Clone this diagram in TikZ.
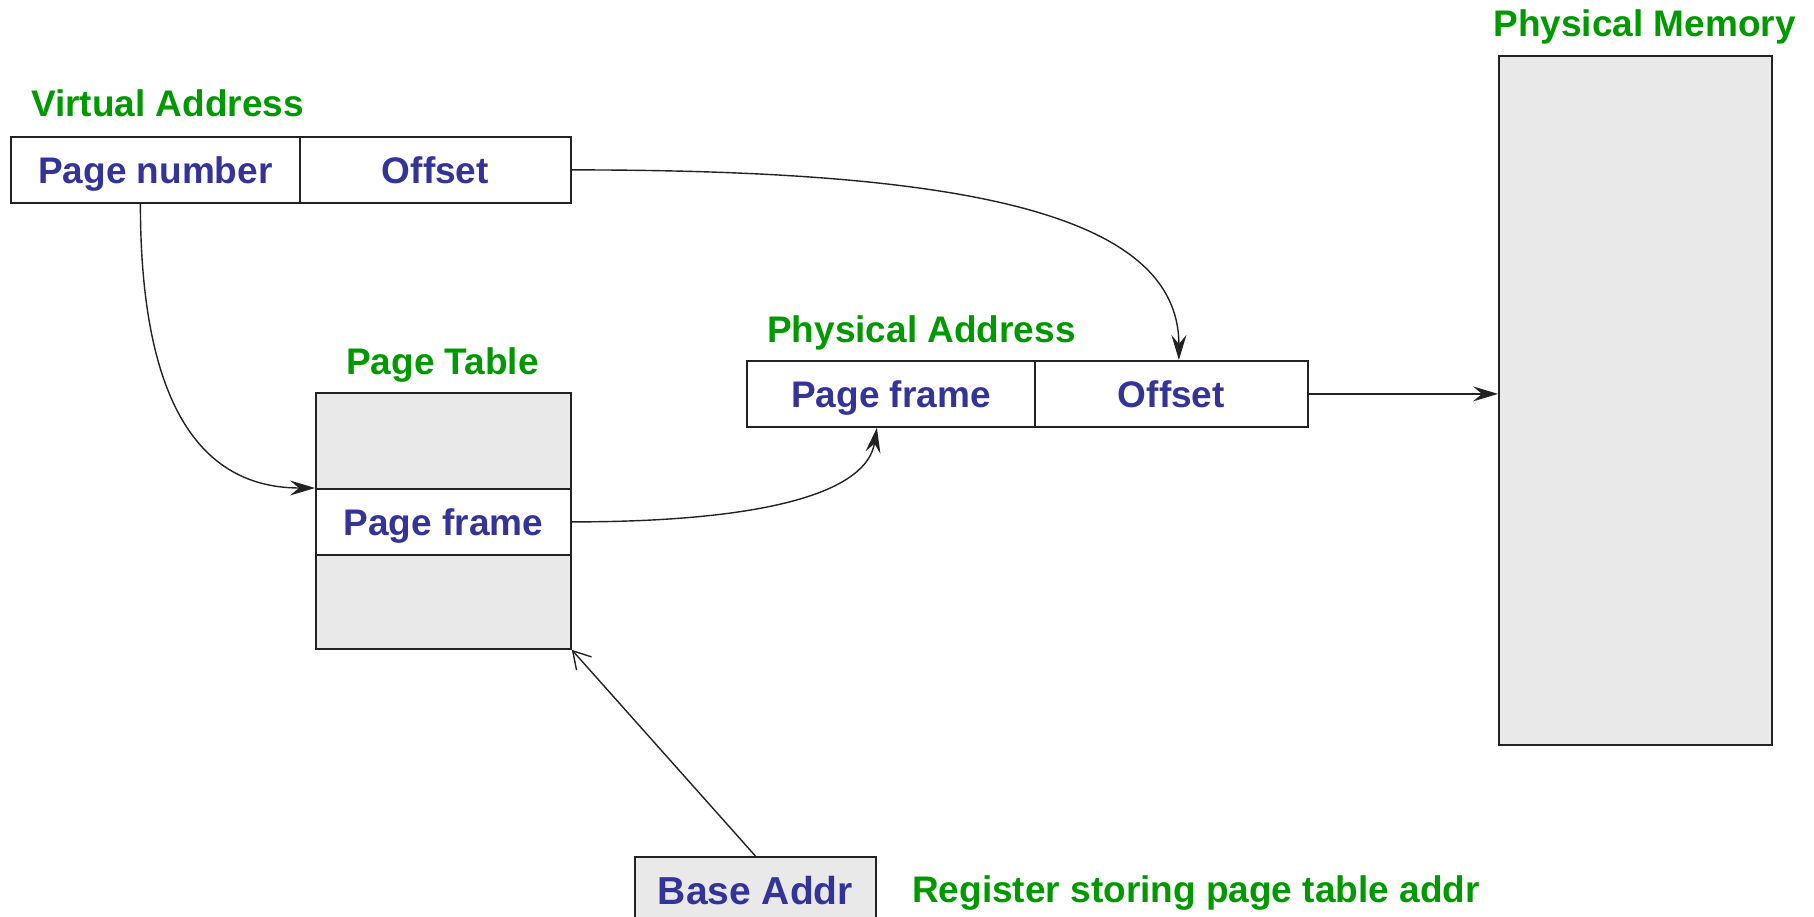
\documentclass[tikz,border=0pt]{standalone}
\usepackage{fontspec}
\setmainfont{Liberation Sans}
\usetikzlibrary{arrows.meta}
\definecolor{lblgreen}{RGB}{0,153,0}
\definecolor{txtblue}{RGB}{51,51,153}
\definecolor{cellgray}{RGB}{233,233,233}
\definecolor{ink}{RGB}{34,34,34}
\begin{document}
\begin{tikzpicture}[x=1pt,y=-1pt,
  cell/.style={draw=ink, line width=1.8pt, rectangle, inner sep=0pt,
    font=\fontsize{37}{44}\selectfont\bfseries, text=txtblue,
    text height=26.5pt, text depth=0pt, anchor=north west},
  graycell/.style={cell, fill=cellgray},
  lbl/.style={inner sep=0pt, font=\fontsize{37}{44}\selectfont\bfseries, text=lblgreen},
  link/.style={draw=ink, line width=1.4pt,
    -{Stealth[length=25pt,width=15pt,inset=9pt]}},
  baselink/.style={draw=ink, line width=1.4pt,
    -{Straight Barb[length=17pt,width=20pt]}}
]
\useasboundingbox (0,0) rectangle (1814,917);

% virtual address
\node[lbl, anchor=base west] (valbl) at (31,117) {Virtual Address};
\node[cell, minimum width=289pt, minimum height=66pt] (vpn) at (10,136) {Page number};
\node[cell, minimum width=271pt, minimum height=66pt] (voff) at (299,136) {Offset};

% page table
\node[lbl, anchor=base] (ptlbl) at (442.5,374) {Page Table};
\node[graycell, minimum width=255pt, minimum height=96pt] (pttop) at (315,392) {};
\node[cell, fill=white, minimum width=255pt, minimum height=66pt] (ptframe) at (315,488) {Page frame};
\node[graycell, minimum width=255pt, minimum height=94pt] (ptbot) at (315,554) {};

% physical address
\node[lbl, anchor=base west] (palbl) at (767,342) {Physical Address};
\node[cell, minimum width=288pt, minimum height=66pt] (pfn) at (746,360) {Page frame};
\node[cell, minimum width=273pt, minimum height=66pt] (poff) at (1034,360) {Offset};

% physical memory
\node[lbl, anchor=base] (pmlbl) at (1644.5,37) {Physical Memory};
\node[graycell, minimum width=273pt, minimum height=688.5pt] (pm) at (1498,55.5) {};

% page table base register
\begin{scope}
  \clip (0,0) rectangle (1814,917);
  \node[graycell, font=\fontsize{39}{46}\selectfont\bfseries, text height=28pt,
    minimum width=241pt, minimum height=68pt] (base) at (634,856) {Base Addr};
\end{scope}
\node[lbl, anchor=base west] (reglbl) at (912,902) {Register storing page table addr};

% connectors
\draw[link] ([xshift=-15pt]vpn.south) .. controls +(0,176) and +(-128,0) .. (ptframe.north west);
\draw[link] (ptframe.east) .. controls +(200,0) and +(-10,63) .. ([xshift=-14pt]pfn.south);
\draw[link] (voff.east) .. controls +(384,0) and +(0,-149) .. ([xshift=7.5pt]poff.north);
\draw[link] (poff.east) -- (poff.east -| pm.west);
\draw[baselink] (base.north) -- (ptbot.south east);
\end{tikzpicture}
\end{document}
